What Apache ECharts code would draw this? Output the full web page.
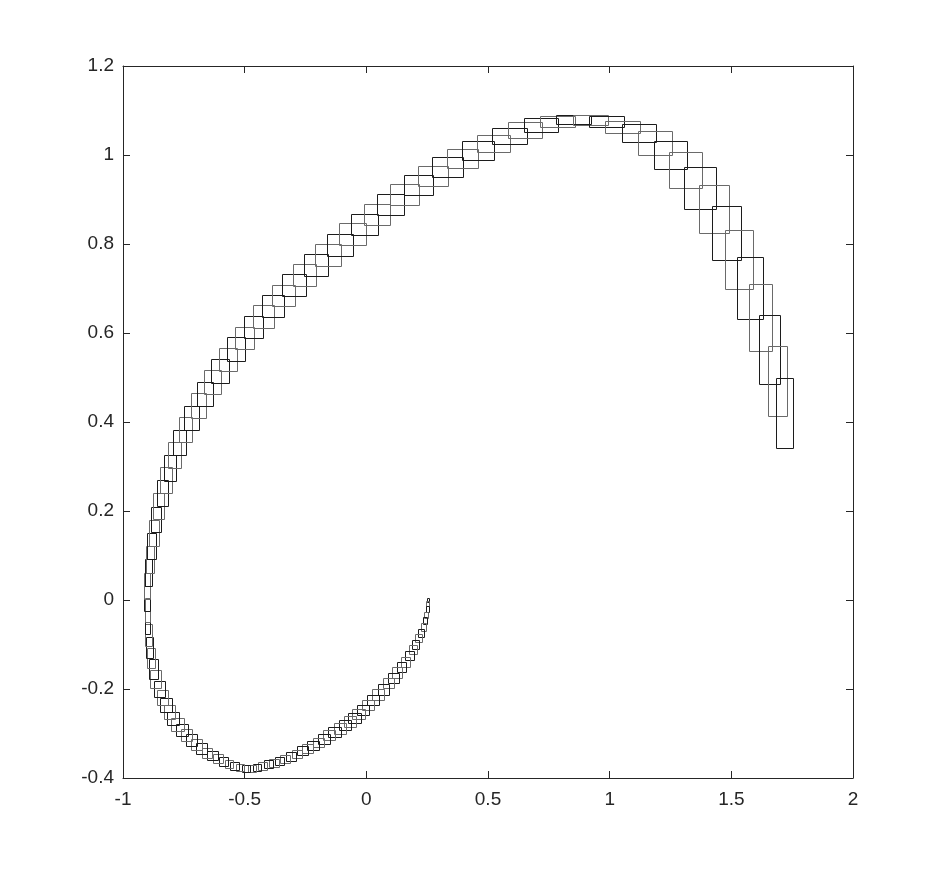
<!DOCTYPE html>
<html>
<head>
<meta charset="utf-8">
<script src="https://cdn.jsdelivr.net/npm/echarts@6/dist/echarts.min.js"></script>
<style>
  html, body { margin: 0; padding: 0; background: #fff; }
  #main { width: 944px; height: 874px; }
</style>
</head>
<body>
<div id="main"></div>
<script>
// box centres along the path, plus box width / height (data units)
var rectX = [0.253, 0.252, 0.251, 0.247, 0.241, 0.234, 0.225, 0.215, 0.203, 0.191,
  0.177, 0.162, 0.145, 0.127, 0.111, 0.090, 0.070, 0.049, 0.029, 0.008,
  -0.013, -0.032, -0.048, -0.067, -0.088, -0.108, -0.130, -0.152, -0.174, -0.197,
  -0.220, -0.243, -0.264, -0.286, -0.310, -0.333, -0.356, -0.379, -0.401, -0.426,
  -0.448, -0.471, -0.495, -0.519, -0.542,
  -0.564, -0.587, -0.610, -0.632, -0.655, -0.677, -0.698, -0.719, -0.739, -0.758,
  -0.776, -0.793, -0.809, -0.823, -0.838, -0.850, -0.866,
  -0.875, -0.884, -0.892, -0.896, -0.899, -0.900, -0.901, -0.900, -0.895, -0.889,
  -0.883, -0.873, -0.863, -0.854, -0.836, -0.823, -0.806, -0.788, -0.767, -0.743,
  -0.718, -0.691, -0.663, -0.633, -0.601, -0.569, -0.534,
  -0.499, -0.463, -0.423, -0.384, -0.340, -0.297, -0.253, -0.206, -0.158, -0.108,
  -0.057, -0.006, 0.045, 0.101, 0.158, 0.216, 0.275, 0.335, 0.397, 0.460,
  0.523, 0.588, 0.653, 0.719, 0.787, 0.853, 0.920, 0.988, 1.054, 1.122,
  1.188, 1.251, 1.313, 1.373, 1.430, 1.481, 1.532, 1.578, 1.621, 1.658,
  1.691, 1.720];
var rectY = [0.000, -0.007, -0.021, -0.034, -0.047, -0.060, -0.074, -0.086, -0.100, -0.112,
  -0.125, -0.139, -0.151, -0.163, -0.176, -0.187, -0.201, -0.212, -0.225, -0.236,
  -0.247, -0.256, -0.265, -0.273, -0.281, -0.289, -0.297, -0.304, -0.312, -0.320,
  -0.327, -0.333, -0.339, -0.346, -0.352, -0.357, -0.362, -0.366, -0.369, -0.373,
  -0.376, -0.378, -0.378, -0.376, -0.373,
  -0.369, -0.363, -0.357, -0.350, -0.343, -0.334, -0.325, -0.315, -0.303, -0.292,
  -0.280, -0.266, -0.252, -0.236, -0.219, -0.200, -0.178,
  -0.155, -0.131, -0.106, -0.079, -0.051, -0.023, 0.003, 0.031, 0.062, 0.091,
  0.121, 0.150, 0.181, 0.211, 0.240, 0.269, 0.297, 0.326, 0.353, 0.383,
  0.409, 0.437, 0.462, 0.489, 0.515, 0.540, 0.564,
  0.589, 0.613, 0.637, 0.660, 0.684, 0.707, 0.730, 0.752, 0.775, 0.798,
  0.822, 0.843, 0.866, 0.889, 0.911, 0.932, 0.952, 0.972, 0.992, 1.010,
  1.026, 1.042, 1.056, 1.067, 1.075, 1.079, 1.079, 1.075, 1.063, 1.049,
  1.027, 1.000, 0.966, 0.925, 0.878, 0.824, 0.765, 0.701, 0.634, 0.563,
  0.492, 0.420];
var rectW = [0.008, 0.010, 0.013, 0.016, 0.019, 0.022, 0.025, 0.027, 0.030, 0.032,
  0.035, 0.037, 0.040, 0.042, 0.044, 0.046, 0.047, 0.048, 0.050, 0.051,
  0.051, 0.051, 0.051, 0.051, 0.051, 0.051, 0.051, 0.050, 0.049, 0.048,
  0.047, 0.046, 0.045, 0.043, 0.042, 0.040, 0.039, 0.038, 0.036, 0.035,
  0.034, 0.034, 0.034, 0.034, 0.035,
  0.036, 0.038, 0.040, 0.042, 0.044, 0.046, 0.046, 0.048, 0.048, 0.050,
  0.050, 0.050, 0.049, 0.047, 0.046, 0.044, 0.042,
  0.037, 0.034, 0.030, 0.027, 0.023, 0.021, 0.023, 0.025, 0.027, 0.031,
  0.035, 0.039, 0.041, 0.043, 0.045, 0.047, 0.049, 0.051, 0.053, 0.057,
  0.060, 0.062, 0.064, 0.068, 0.071, 0.071, 0.074,
  0.078, 0.078, 0.083, 0.088, 0.092, 0.096, 0.093, 0.099, 0.104, 0.104,
  0.108, 0.110, 0.106, 0.111, 0.119, 0.119, 0.123, 0.127, 0.127, 0.132,
  0.134, 0.141, 0.140, 0.140, 0.144, 0.144, 0.144, 0.144, 0.144, 0.140,
  0.140, 0.136, 0.136, 0.132, 0.123, 0.119, 0.112, 0.107, 0.095, 0.086,
  0.078, 0.070];
var rectH = [0.009, 0.011, 0.013, 0.014, 0.016, 0.018, 0.018, 0.019, 0.020, 0.020,
  0.021, 0.022, 0.022, 0.023, 0.023, 0.023, 0.024, 0.024, 0.024, 0.024,
  0.024, 0.024, 0.023, 0.023, 0.023, 0.023, 0.023, 0.022, 0.022, 0.021,
  0.021, 0.020, 0.020, 0.019, 0.019, 0.018, 0.018, 0.017, 0.017, 0.016,
  0.016, 0.016, 0.016, 0.016, 0.017,
  0.018, 0.019, 0.020, 0.021, 0.022, 0.024, 0.025, 0.026, 0.027, 0.028,
  0.029, 0.030, 0.031, 0.032, 0.034, 0.037, 0.040,
  0.043, 0.045, 0.047, 0.049, 0.052, 0.054, 0.056, 0.058, 0.060, 0.060,
  0.058, 0.058, 0.058, 0.058, 0.058, 0.058, 0.057, 0.057, 0.056, 0.056,
  0.056, 0.055, 0.054, 0.054, 0.053, 0.052, 0.052,
  0.051, 0.049, 0.051, 0.049, 0.047, 0.049, 0.049, 0.049, 0.048, 0.048,
  0.049, 0.047, 0.048, 0.047, 0.047, 0.046, 0.045, 0.045, 0.043, 0.043,
  0.040, 0.036, 0.036, 0.032, 0.025, 0.020, 0.021, 0.025, 0.029, 0.040,
  0.052, 0.065, 0.081, 0.094, 0.108, 0.121, 0.132, 0.141, 0.150, 0.153,
  0.157, 0.157];

var xTickLabels = ['-1', '-0.5', '0', '0.5', '1', '1.5', '2'];
var yTickLabels = ['-0.4', '-0.2', '0', '0.2', '0.4', '0.6', '0.8', '1', '1.2'];

var boxes = [];
for (var i = 0; i < rectX.length; i++) {
  boxes.push([rectX[i], rectY[i], rectW[i], rectH[i]]);
}

function pickLabel(list, v) {
  for (var k = 0; k < list.length; k++) {
    if (Math.abs(parseFloat(list[k]) - v) < 1e-6) return list[k];
  }
  return '';
}

var myChart = echarts.init(document.getElementById('main'));

var axisText = { color: '#262626', fontSize: 19, fontFamily: 'Liberation Sans, Arial, sans-serif' };
var boxLine = { show: true, onZero: false, lineStyle: { color: '#262626', width: 1 } };
var inTick = { show: true, inside: true, length: 7, lineStyle: { color: '#262626', width: 1 } };

option = {
  backgroundColor: '#ffffff',
  animation: false,
  grid: { left: 123, right: 91, top: 66, bottom: 96, containLabel: false },
  xAxis: [
    {
      type: 'value', min: -1, max: 2, interval: 0.5, position: 'bottom',
      axisLine: boxLine, axisTick: inTick, splitLine: { show: false },
      axisLabel: Object.assign({ margin: 12, formatter: function (v) { return pickLabel(xTickLabels, v); } }, axisText)
    },
    {
      type: 'value', min: -1, max: 2, interval: 0.5, position: 'top',
      axisLine: boxLine, axisTick: inTick, splitLine: { show: false }, axisLabel: { show: false }
    }
  ],
  yAxis: [
    {
      type: 'value', min: -0.4, max: 1.2, interval: 0.2, position: 'left',
      axisLine: boxLine, axisTick: inTick, splitLine: { show: false },
      axisLabel: Object.assign({ margin: 9, formatter: function (v) { return pickLabel(yTickLabels, v); } }, axisText)
    },
    {
      type: 'value', min: -0.4, max: 1.2, interval: 0.2, position: 'right',
      axisLine: boxLine, axisTick: inTick, splitLine: { show: false }, axisLabel: { show: false }
    }
  ],
  series: [
    {
      type: 'custom',
      xAxisIndex: 0,
      yAxisIndex: 0,
      data: boxes,
      encode: { x: [0], y: [1] },
      renderItem: function (params, api) {
        var cx = api.value(0), cy = api.value(1), w = api.value(2), h = api.value(3);
        var a = api.coord([cx - w / 2, cy + h / 2]);
        var b = api.coord([cx + w / 2, cy - h / 2]);
        var x0 = Math.round(a[0]) + 0.5, y0 = Math.round(a[1]) + 0.5;
        var x1 = Math.round(b[0]) + 0.5, y1 = Math.round(b[1]) + 0.5;
        return {
          type: 'rect',
          shape: { x: x0, y: y0, width: Math.max(1, x1 - x0), height: Math.max(1, y1 - y0) },
          style: { fill: null, stroke: params.dataIndex % 2 ? '#6a6a6a' : '#1c1c1c', lineWidth: 1 }
        };
      }
    }
  ]
};

myChart.setOption(option);
</script>
</body>
</html>
